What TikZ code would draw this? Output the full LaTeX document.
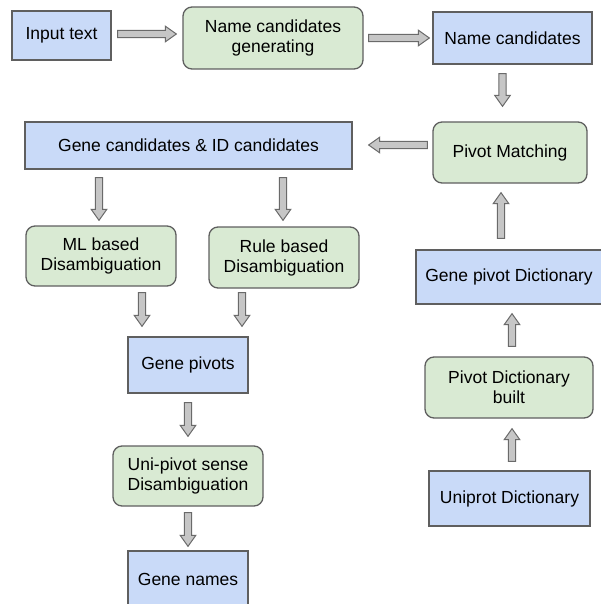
\documentclass[tikz,border=0pt]{standalone}
\usepackage{fontspec}
\setmainfont{Liberation Sans}
\usepackage{tikz}
\usetikzlibrary{arrows.meta,calc,positioning}
\definecolor{boxblue}{HTML}{C9DAF8}
\definecolor{boxgreen}{HTML}{D9EAD3}
\definecolor{boxline}{HTML}{5F5F5F}
\definecolor{arrowfill}{HTML}{C6C6C6}
\definecolor{arrowline}{HTML}{6A6A6A}
\newcommand{\shafthalf}{3.6pt}
\newcommand{\headhalf}{7.8pt}
\newcommand{\headlen}{11pt}
\tikzset{
  data box/.style={draw=boxline,fill=boxblue,line width=1.3pt,align=center,
    inner sep=2pt,font=\fontsize{17.5}{20}\selectfont},
  step box/.style={data box,fill=boxgreen,rounded corners=9pt},
  block arrow/.style={draw=arrowline,fill=arrowfill,line width=1pt,line join=miter}
}
\newcommand{\BlockArrow}[2]{%
  \draw[block arrow] let \p1=(#1), \p2=(#2), \n1={atan2(\y2-\y1,\x2-\x1)} in
    ($(\p1)+(\n1+90:\shafthalf)$)
    -- ($(\p2)+(\n1+180:\headlen)+(\n1+90:\shafthalf)$)
    -- ($(\p2)+(\n1+180:\headlen)+(\n1+90:\headhalf)$) -- (\p2)
    -- ($(\p2)+(\n1+180:\headlen)+(\n1-90:\headhalf)$)
    -- ($(\p2)+(\n1+180:\headlen)+(\n1-90:\shafthalf)$)
    -- ($(\p1)+(\n1-90:\shafthalf)$) -- cycle;}

\begin{document}
\begin{tikzpicture}[x=1pt,y=1pt]
  \useasboundingbox (0,0) rectangle (601,-604);

  % left column
  \node[data box,minimum width=99pt,minimum height=49pt]  (input)     at (61.5,-35.5) {Input text};
  \node[step box,minimum width=180pt,minimum height=62pt] (namegen)   at (273,-38)    {Name candidates\\generating};
  \node[data box,minimum width=327pt,minimum height=47pt] (genecand)  at (188.5,-145.5) {Gene candidates \& ID candidates};
  \node[step box,minimum width=150pt,minimum height=60pt] (mldis)     at (101,-256)   {ML based\\Disambiguation};
  \node[step box,minimum width=150pt,minimum height=61pt] (ruledis)   at (284,-257.5) {Rule based\\Disambiguation};
  \node[data box,minimum width=120pt,minimum height=56pt] (genepiv)   at (188,-365)   {Gene pivots};
  \node[step box,minimum width=150pt,minimum height=60pt] (unidis)    at (188,-476)   {Uni-pivot sense\\Disambiguation};
  \node[data box,minimum width=120pt,minimum height=56pt] (genenames) at (188,-579)   {Gene names};

  % right column
  \node[data box,minimum width=159pt,minimum height=52pt] (namecand)  at (512.5,-38)  {Name candidates};
  \node[step box,minimum width=154pt,minimum height=61pt] (pivmatch)  at (510,-152.5) {Pivot Matching};
  \node[data box,minimum width=186pt,minimum height=54pt] (pivdict)   at (509,-277)   {Gene pivot Dictionary};
  \node[step box,minimum width=168pt,minimum height=61pt] (dictbuilt) at (509,-387.5) {Pivot Dictionary\\built};
  \node[data box,minimum width=161pt,minimum height=55pt] (uniprot)   at (509.5,-498.5) {Uniprot Dictionary};

  \BlockArrow{$(input.east)+(6,1.5)$}{$(namegen.west)+(-6,4)$}
  \BlockArrow{$(namegen.east)+(5,0)$}{$(namecand.west)+(-3,0)$}
  \BlockArrow{$(namecand.south)+(-10,-9)$}{$(pivmatch.north)+(-7.5,15)$}
  \BlockArrow{$(pivmatch.west)+(-5,7.5)$}{$(genecand.east)+(16,0.5)$}
  \BlockArrow{$(genecand.south -| mldis.north)+(-2,-8)$}{$(mldis.north)+(-2,5)$}
  \BlockArrow{$(genecand.south -| ruledis.north)+(-1,-8)$}{$(ruledis.north)+(-1,6)$}
  \BlockArrow{$(mldis.south)+(41,-6)$}{$(genepiv.north)+(-46,10)$}
  \BlockArrow{$(ruledis.south)+(-42,-4)$}{$(genepiv.north)+(54,10)$}
  \BlockArrow{$(genepiv.south)+(0,-9)$}{$(unidis.north)+(0,9)$}
  \BlockArrow{$(unidis.south)+(0,-6)$}{$(genenames.north)+(0,4)$}
  \BlockArrow{$(uniprot.north)+(2.5,9)$}{$(dictbuilt.south)+(3,-10)$}
  \BlockArrow{$(dictbuilt.north)+(3,10)$}{$(pivdict.south)+(3,-9)$}
  \BlockArrow{$(pivdict.north)+(-8,11)$}{$(pivmatch.south)+(-9,-9)$}
\end{tikzpicture}
\end{document}
